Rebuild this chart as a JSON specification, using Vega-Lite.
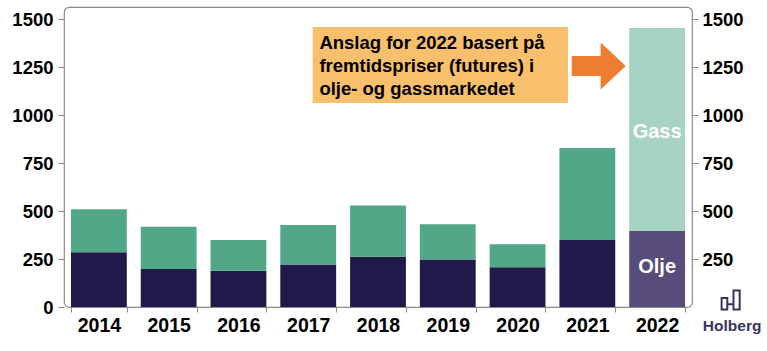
{
  "$schema": "https://vega.github.io/schema/vega-lite/v6.json",
  "width": 628,
  "height": 300,
  "autosize": {"type": "none"},
  "padding": {"left": 64, "top": 7, "right": 75, "bottom": 44},
  "background": "white",
  "config": {
    "font": "Liberation Sans",
    "view": {"stroke": "#8a8a8a", "strokeWidth": 1.2, "cornerRadius": 5}
  },
  "resolve": {"axis": {"y": "independent"}},
  "layer": [
    {
      "data": {
        "values": [
          {"year": "2014", "serie": "Olje", "kategori": "Olje", "value": 285},
          {"year": "2014", "serie": "Gass", "kategori": "Gass", "value": 224},
          {"year": "2015", "serie": "Olje", "kategori": "Olje", "value": 198},
          {"year": "2015", "serie": "Gass", "kategori": "Gass", "value": 220},
          {"year": "2016", "serie": "Olje", "kategori": "Olje", "value": 189},
          {"year": "2016", "serie": "Gass", "kategori": "Gass", "value": 160},
          {"year": "2017", "serie": "Olje", "kategori": "Olje", "value": 222},
          {"year": "2017", "serie": "Gass", "kategori": "Gass", "value": 205},
          {"year": "2018", "serie": "Olje", "kategori": "Olje", "value": 262},
          {"year": "2018", "serie": "Gass", "kategori": "Gass", "value": 266},
          {"year": "2019", "serie": "Olje", "kategori": "Olje", "value": 248},
          {"year": "2019", "serie": "Gass", "kategori": "Gass", "value": 183},
          {"year": "2020", "serie": "Olje", "kategori": "Olje", "value": 207},
          {"year": "2020", "serie": "Gass", "kategori": "Gass", "value": 120},
          {"year": "2021", "serie": "Olje", "kategori": "Olje", "value": 349},
          {"year": "2021", "serie": "Gass", "kategori": "Gass", "value": 479},
          {"year": "2022", "serie": "Olje", "kategori": "Olje, anslag", "value": 396},
          {"year": "2022", "serie": "Gass", "kategori": "Gass, anslag", "value": 1057}
        ]
      },
      "mark": {"type": "bar"},
      "encoding": {
        "x": {
          "field": "year",
          "type": "nominal",
          "scale": {"paddingInner": 0.2, "paddingOuter": 0.1},
          "axis": {
            "title": null,
            "labelAngle": 0,
            "labelFontSize": 19.5,
            "labelFontWeight": "bold",
            "labelColor": "#000000",
            "labelPadding": 4,
            "tickColor": "#888888",
            "tickSize": 5,
            "tickBand": "extent",
            "domain": false
          }
        },
        "y": {
          "field": "value",
          "type": "quantitative",
          "stack": "zero",
          "scale": {"domain": [0, 1562.5], "nice": false, "zero": true},
          "axis": {
            "orient": "left",
            "title": null,
            "format": "d",
            "values": [0, 250, 500, 750, 1000, 1250, 1500],
            "labelFontSize": 18.5,
            "labelFontWeight": "bold",
            "labelColor": "#000000",
            "labelPadding": 5,
            "tickColor": "#888888",
            "tickSize": 6,
            "domain": false,
            "grid": false
          }
        },
        "color": {
          "field": "kategori",
          "type": "nominal",
          "scale": {
            "domain": ["Olje", "Gass", "Olje, anslag", "Gass, anslag"],
            "range": ["#21194a", "#52a786", "#574c7a", "#a7d3c2"]
          },
          "legend": null
        },
        "order": {"field": "serie", "sort": "descending"}
      }
    },
    {
      "data": {"values": [{}]},
      "mark": {"type": "rect", "color": "#f8bf6d"},
      "encoding": {
        "x": {"datum": "2017", "type": "nominal", "bandPosition": 0.58},
        "x2": {"datum": "2021", "bandPosition": 0.154},
        "y": {"datum": 1458, "type": "quantitative", "axis": null},
        "y2": {"datum": 1062}
      }
    },
    {
      "data": {"values": [{}]},
      "mark": {
        "type": "text",
        "align": "left",
        "baseline": "alphabetic",
        "fontSize": 18.5,
        "fontWeight": "bold",
        "color": "#000000",
        "lineHeight": 22.8,
        "text": ["Anslag for 2022 basert på", "fremtidspriser (futures) i", "olje- og gassmarkedet"]
      },
      "encoding": {
        "x": {"datum": "2017", "type": "nominal", "bandPosition": 0.70},
        "y": {"datum": 1342, "type": "quantitative", "axis": null}
      }
    },
    {
      "data": {"values": [{}]},
      "mark": {
        "type": "point",
        "filled": true,
        "opacity": 1,
        "color": "#ed7d31",
        "strokeWidth": 0,
        "size": 2916,
        "shape": "M-1,-0.37L0.07,-0.37L0.07,-0.87L1,0L0.07,0.87L0.07,0.37L-1,0.37Z"
      },
      "encoding": {
        "x": {"datum": "2021", "type": "nominal", "bandPosition": 0.704},
        "y": {"datum": 1255, "type": "quantitative", "axis": null}
      }
    },
    {
      "data": {"values": [{}]},
      "mark": {"type": "text", "text": "Gass", "fontSize": 20, "fontWeight": "bold", "color": "#ffffff", "baseline": "middle"},
      "encoding": {
        "x": {"datum": "2022", "type": "nominal"},
        "y": {
          "datum": 913,
          "type": "quantitative",
          "axis": {
            "orient": "right",
            "title": null,
            "format": "d",
            "values": [250, 500, 750, 1000, 1250, 1500],
            "labelFontSize": 18.5,
            "labelFontWeight": "bold",
            "labelColor": "#000000",
            "labelPadding": 4,
            "tickColor": "#888888",
            "tickSize": 6,
            "domain": false,
            "grid": false
          }
        }
      }
    },
    {
      "data": {"values": [{}]},
      "mark": {"type": "text", "text": "Olje", "fontSize": 20, "fontWeight": "bold", "color": "#ffffff", "baseline": "middle"},
      "encoding": {
        "x": {"datum": "2022", "type": "nominal"},
        "y": {"datum": 210, "type": "quantitative", "axis": null}
      }
    },
    {
      "data": {"values": [{}]},
      "mark": {"type": "text", "text": "Holberg", "fontSize": 15.5, "fontWeight": "bold", "color": "#38345f", "baseline": "alphabetic", "xOffset": 75, "yOffset": 24},
      "encoding": {
        "x": {"datum": "2022", "type": "nominal"},
        "y": {"datum": 0, "type": "quantitative", "axis": null}
      }
    },
    {
      "data": {"values": [{}]},
      "mark": {
        "type": "point",
        "filled": false,
        "opacity": 1,
        "color": "#38345f",
        "strokeWidth": 2,
        "size": 361,
        "shape": "M-1,-0.2L-0.4,-0.2L-0.4,1L-1,1Z M0.25,-1L0.9,-1L0.9,1L0.25,1Z M-0.4,0.45L0.25,0.45",
        "xOffset": 74,
        "yOffset": -7
      },
      "encoding": {
        "x": {"datum": "2022", "type": "nominal"},
        "y": {"datum": 0, "type": "quantitative", "axis": null}
      }
    }
  ]
}
